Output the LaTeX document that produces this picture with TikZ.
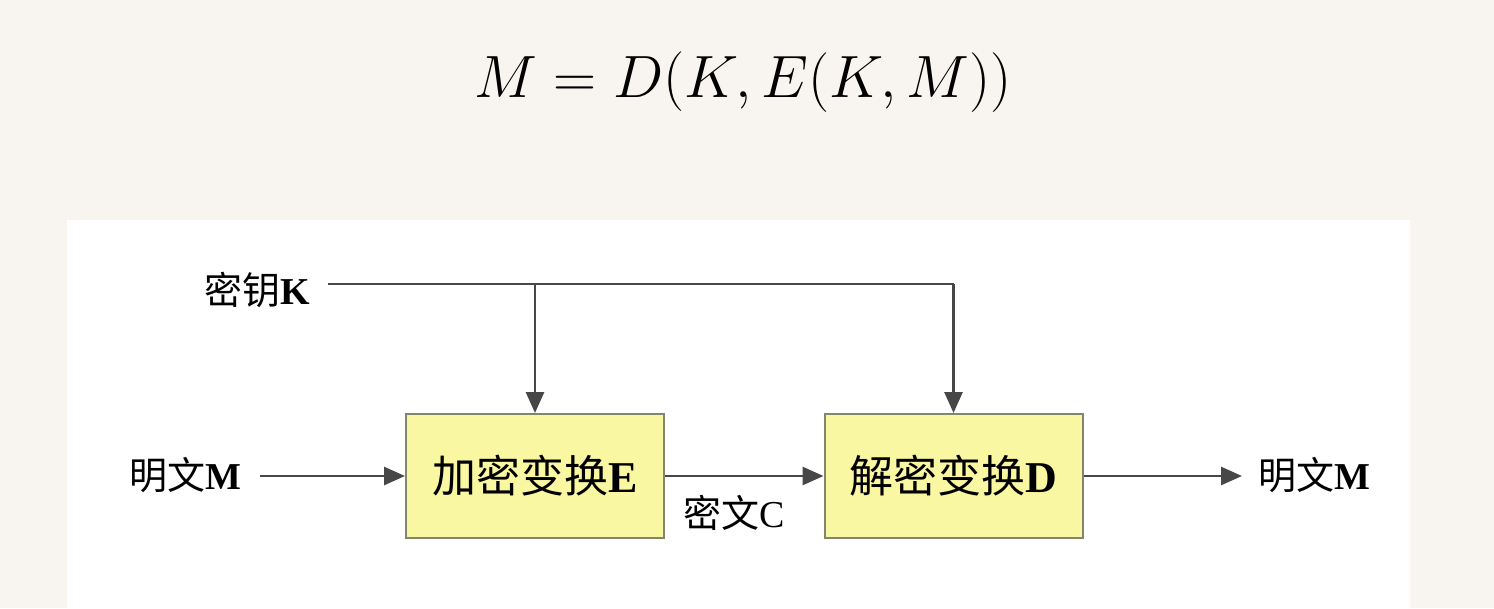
\documentclass[tikz,border=0pt]{standalone}
\usepackage{fontspec}
\setmainfont{Liberation Serif}
\newfontfamily\cjk{Noto Sans CJK SC}
\usetikzlibrary{arrows.meta}
\definecolor{bgbeige}{HTML}{F8F5F0}
\definecolor{linegray}{HTML}{474747}
\definecolor{boxfill}{HTML}{FAF7A2}
\definecolor{boxborder}{HTML}{85856E}
\tikzset{
  procbox/.style={draw=boxborder, line width=2pt, fill=boxfill, minimum width=258pt, minimum height=124pt, inner sep=0pt, font=\fontsize{44}{48}\selectfont},
  lbl/.style={inner sep=0pt, font=\fontsize{38}{42}\selectfont},
  conn/.style={draw=linegray, line width=2.8pt},
  arr/.style={conn, -{Triangle[length=21pt,width=18pt]}}
}
\begin{document}
\begin{tikzpicture}[x=1pt,y=-1pt]
\useasboundingbox (0,0) rectangle (1494,608);
\fill[bgbeige] (0,0) rectangle (1494,608);
\fill[white] (67,220) rectangle (1410,608);
\node[anchor=base, inner sep=0pt, scale=2.4, font=\fontsize{24.88}{30}\selectfont] (formula) at (743,97) {$M = D\big(K, E(K,M)\big)$};
\node[procbox] (E) at (535,476) {{\cjk 加密变换}\textbf{E}};
\node[procbox] (D) at (953.5,476) {{\cjk 解密变换}\textbf{D}};
\node[lbl, anchor=east] (key) at (310,290) {{\cjk 密钥}\textbf{K}};
\node[lbl, anchor=east] (min) at (242,475) {{\cjk 明文}\textbf{M}};
\node[lbl, anchor=west] (mout) at (1258,475) {{\cjk 明文}\textbf{M}};
\node[lbl] (ctext) at (734,513) {{\cjk 密文}C};
\coordinate (k0) at (328,284);
\coordinate (kE) at (E.north |- k0);
\coordinate (kD) at (D.north |- k0);
\coordinate (m0) at (260,476);
\coordinate (m1) at (1242,476);
\draw[conn] (k0) -- (kD);
\draw[arr] (kE) -- (E.north);
\draw[arr] (kD) -- (D.north);
\draw[arr] (m0) -- (E.west);
\draw[arr] (E.east) -- (D.west);
\draw[arr] (D.east) -- (m1);
\end{tikzpicture}
\end{document}
